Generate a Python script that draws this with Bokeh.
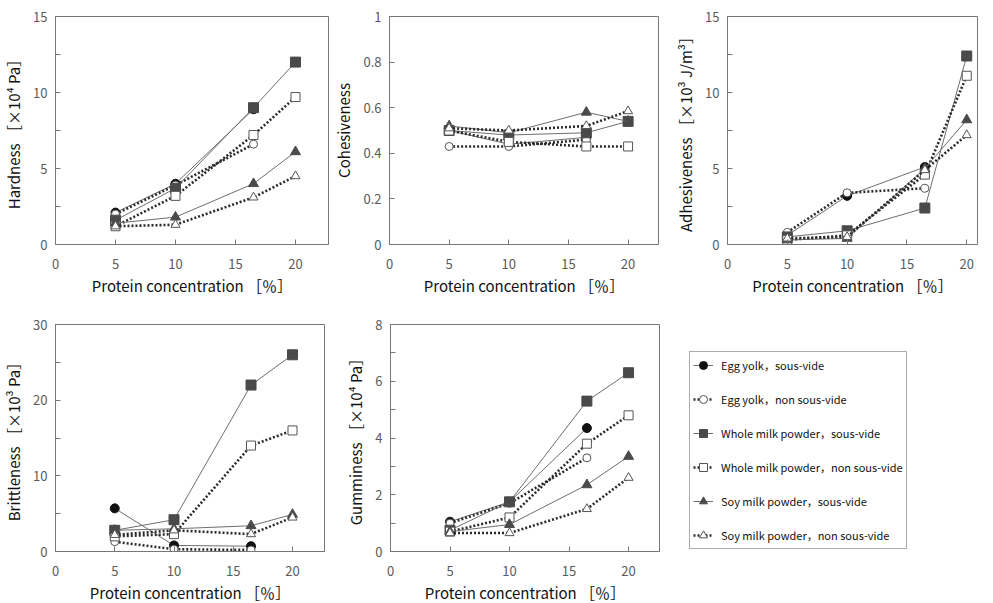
from bokeh.plotting import figure
from bokeh.layouts import column, row
from bokeh.models import Range1d, Legend, LegendItem, FixedTicker, NumeralTickFormatter
from bokeh.embed import file_html
from bokeh.resources import INLINE

# ---------------- data ----------------
conc = [5, 10, 16.5, 20]          # protein concentration [%]
conc_egg = [5, 10, 16.5]          # egg yolk measured up to 16.5 %

series_names = [
    "Egg yolk，sous-vide",
    "Egg yolk，non sous-vide",
    "Whole milk powder，sous-vide",
    "Whole milk powder，non sous-vide",
    "Soy milk powder，sous-vide",
    "Soy milk powder，non sous-vide",
]

hardness_egg_sv = [2.1, 4.0, 8.9]
hardness_egg_nsv = [2.0, 3.9, 6.6]
hardness_wmp_sv = [1.6, 3.7, 9.0, 12.0]
hardness_wmp_nsv = [1.2, 3.2, 7.2, 9.7]
hardness_soy_sv = [1.4, 1.8, 4.0, 6.1]
hardness_soy_nsv = [1.2, 1.3, 3.1, 4.5]

cohesiveness_egg_sv = [0.50, 0.44, 0.47]
cohesiveness_egg_nsv = [0.43, 0.43, 0.46]
cohesiveness_wmp_sv = [0.50, 0.48, 0.49, 0.54]
cohesiveness_wmp_nsv = [0.50, 0.45, 0.43, 0.43]
cohesiveness_soy_sv = [0.52, 0.49, 0.58, 0.54]
cohesiveness_soy_nsv = [0.51, 0.50, 0.52, 0.585]

adhesiveness_egg_sv = [0.6, 3.2, 5.1]
adhesiveness_egg_nsv = [0.8, 3.4, 3.7]
adhesiveness_wmp_sv = [0.5, 0.9, 2.4, 12.4]
adhesiveness_wmp_nsv = [0.3, 0.6, 4.6, 11.1]
adhesiveness_soy_sv = [0.3, 0.4, 5.0, 8.2]
adhesiveness_soy_nsv = [0.4, 0.5, 4.9, 7.2]

brittleness_egg_sv = [5.7, 0.8, 0.7]
brittleness_egg_nsv = [1.3, 0.3, 0.2]
brittleness_wmp_sv = [2.8, 4.2, 22.0, 26.0]
brittleness_wmp_nsv = [2.0, 2.3, 14.0, 16.0]
brittleness_soy_sv = [2.8, 3.0, 3.4, 4.9]
brittleness_soy_nsv = [2.2, 2.8, 2.3, 4.5]

gumminess_egg_sv = [1.05, 1.75, 4.35]
gumminess_egg_nsv = [1.0, 1.7, 3.3]
gumminess_wmp_sv = [0.75, 1.75, 5.3, 6.3]
gumminess_wmp_nsv = [0.7, 1.2, 3.8, 4.8]
gumminess_soy_sv = [0.7, 0.95, 2.35, 3.35]
gumminess_soy_nsv = [0.65, 0.65, 1.5, 2.6]

x_ticks = [0, 5, 10, 15, 20]

# ---------------- styles ----------------
FONT = "Noto Sans CJK JP"
SOLID = dict(line_color="#6e6e6e", line_width=1.0, line_dash="solid")
DOT = dict(line_color="#2b2b2b", line_width=2.6, line_dash="2 2")
styles = [
    (SOLID, dict(marker="circle", size=9, fill_color="#111111", line_color="#111111")),
    (DOT, dict(marker="circle", size=8, fill_color="white", line_color="#555555")),
    (SOLID, dict(marker="square", size=10, fill_color="#4a4a4a", line_color="#4a4a4a")),
    (DOT, dict(marker="square", size=9, fill_color="white", line_color="#555555")),
    (SOLID, dict(marker="triangle", size=10, fill_color="#4a4a4a", line_color="#4a4a4a")),
    (DOT, dict(marker="triangle", size=9, fill_color="white", line_color="#555555")),
]


def make_panel(series, ylabel, y_end, y_major, y_minor, frame_w, frame_h, x_end,
               bl, br, bt, bb, fmt=None):
    p = figure(frame_width=frame_w, frame_height=frame_h,
               x_range=Range1d(0, x_end), y_range=Range1d(0, y_end),
               output_backend="svg", toolbar_location=None,
               min_border_left=bl, min_border_right=br,
               min_border_top=bt, min_border_bottom=bb)
    p.grid.visible = False
    p.outline_line_color = "#777777"
    p.outline_line_width = 1
    for ax in (p.xaxis[0], p.yaxis[0]):
        ax.axis_line_color = "#777777"
        ax.major_tick_line_color = "#777777"
        ax.minor_tick_line_color = "#777777"
        ax.major_tick_in = 5
        ax.major_tick_out = 0
        ax.minor_tick_in = 5
        ax.minor_tick_out = 0
        ax.major_label_text_font = FONT
        ax.major_label_text_font_size = "13px"
        ax.major_label_text_color = "#5a5a5a"
        ax.axis_label_text_font = FONT
        ax.axis_label_text_font_size = "15px"
        ax.axis_label_text_font_style = "normal"
        ax.axis_label_text_color = "#111111"
    p.xaxis.ticker = FixedTicker(ticks=x_ticks)
    p.xaxis.minor_tick_line_color = None
    p.xaxis.major_label_standoff = 14
    p.xaxis.axis_label_standoff = 3
    p.xaxis.axis_label = "Protein concentration ［％］"
    p.yaxis.ticker = FixedTicker(ticks=y_major, minor_ticks=y_minor)
    p.yaxis.major_label_standoff = 8
    p.yaxis.axis_label_standoff = 6
    p.yaxis.axis_label = ylabel
    if fmt is not None:
        p.yaxis.formatter = fmt
    for (ys, (ls, ms)) in zip(series, styles):
        xs = conc[:len(ys)]
        p.line(xs, ys, **ls)
        p.scatter(xs, ys, **ms)
    return p


p1 = make_panel([hardness_egg_sv, hardness_egg_nsv, hardness_wmp_sv,
                 hardness_wmp_nsv, hardness_soy_sv, hardness_soy_nsv],
                "Hardness ［×10⁴ Pa］", 15, [0, 5, 10, 15], [2.5, 7.5, 12.5],
                273, 228, 22.75, 54, 2, 16, 65)
p2 = make_panel([cohesiveness_egg_sv, cohesiveness_egg_nsv, cohesiveness_wmp_sv,
                 cohesiveness_wmp_nsv, cohesiveness_soy_sv, cohesiveness_soy_nsv],
                "Cohesiveness", 1, [0, 0.2, 0.4, 0.6, 0.8, 1.0], [],
                269, 228, 22.55, 52, 14, 16, 65, fmt=NumeralTickFormatter(format="0.[0]"))
p3 = make_panel([adhesiveness_egg_sv, adhesiveness_egg_nsv, adhesiveness_wmp_sv,
                 adhesiveness_wmp_nsv, adhesiveness_soy_sv, adhesiveness_soy_nsv],
                "Adhesiveness ［×10³ J/m³］", 15, [0, 5, 10, 15], [2.5, 7.5, 12.5],
                250, 228, 20.9, 55, 2, 16, 65)
p4 = make_panel([brittleness_egg_sv, brittleness_egg_nsv, brittleness_wmp_sv,
                 brittleness_wmp_nsv, brittleness_soy_sv, brittleness_soy_nsv],
                "Brittleness ［×10³ Pa］", 30, [0, 10, 20, 30], [5, 15, 25],
                269, 227, 22.7, 48, 10, 15, 45)
p5 = make_panel([gumminess_egg_sv, gumminess_egg_nsv, gumminess_wmp_sv,
                 gumminess_wmp_nsv, gumminess_soy_sv, gumminess_soy_nsv],
                "Gumminess ［×10⁴ Pa］", 8, [0, 2, 4, 6, 8], [1, 3, 5, 7],
                269, 227, 22.6, 56, 10, 15, 45)

# ---------------- legend panel (frame aligned with the bottom-row frames) ----------------
leg = figure(frame_width=296, frame_height=227, output_backend="svg", toolbar_location=None,
             x_range=Range1d(0, 1), y_range=Range1d(0, 1),
             x_axis_location=None, y_axis_location=None,
             min_border_left=10, min_border_right=0, min_border_top=15, min_border_bottom=45)
leg.grid.visible = False
leg.outline_line_color = None
items = []
for name, (ls, ms) in zip(series_names, styles):
    ms_small = dict(ms)
    ms_small["size"] = ms["size"] - 3
    r1 = leg.line([-10, -9], [-10, -10], **ls)
    r2 = leg.scatter([-10], [-10], **ms_small)
    items.append(LegendItem(label=name, renderers=[r1, r2]))
legend = Legend(items=items, location=(10, 2),
                label_text_font=FONT, label_text_font_size="11px",
                label_text_color="#111111",
                border_line_color="#555555", border_line_width=1.5,
                padding=3, spacing=14, glyph_width=20, glyph_height=20,
                label_height=20, label_standoff=8, margin=0,
                background_fill_color="white")
leg.add_layout(legend)

layout = column(row(p1, p2, p3), row(p4, p5, leg))
open("out.html", "w").write(file_html(layout, INLINE))
